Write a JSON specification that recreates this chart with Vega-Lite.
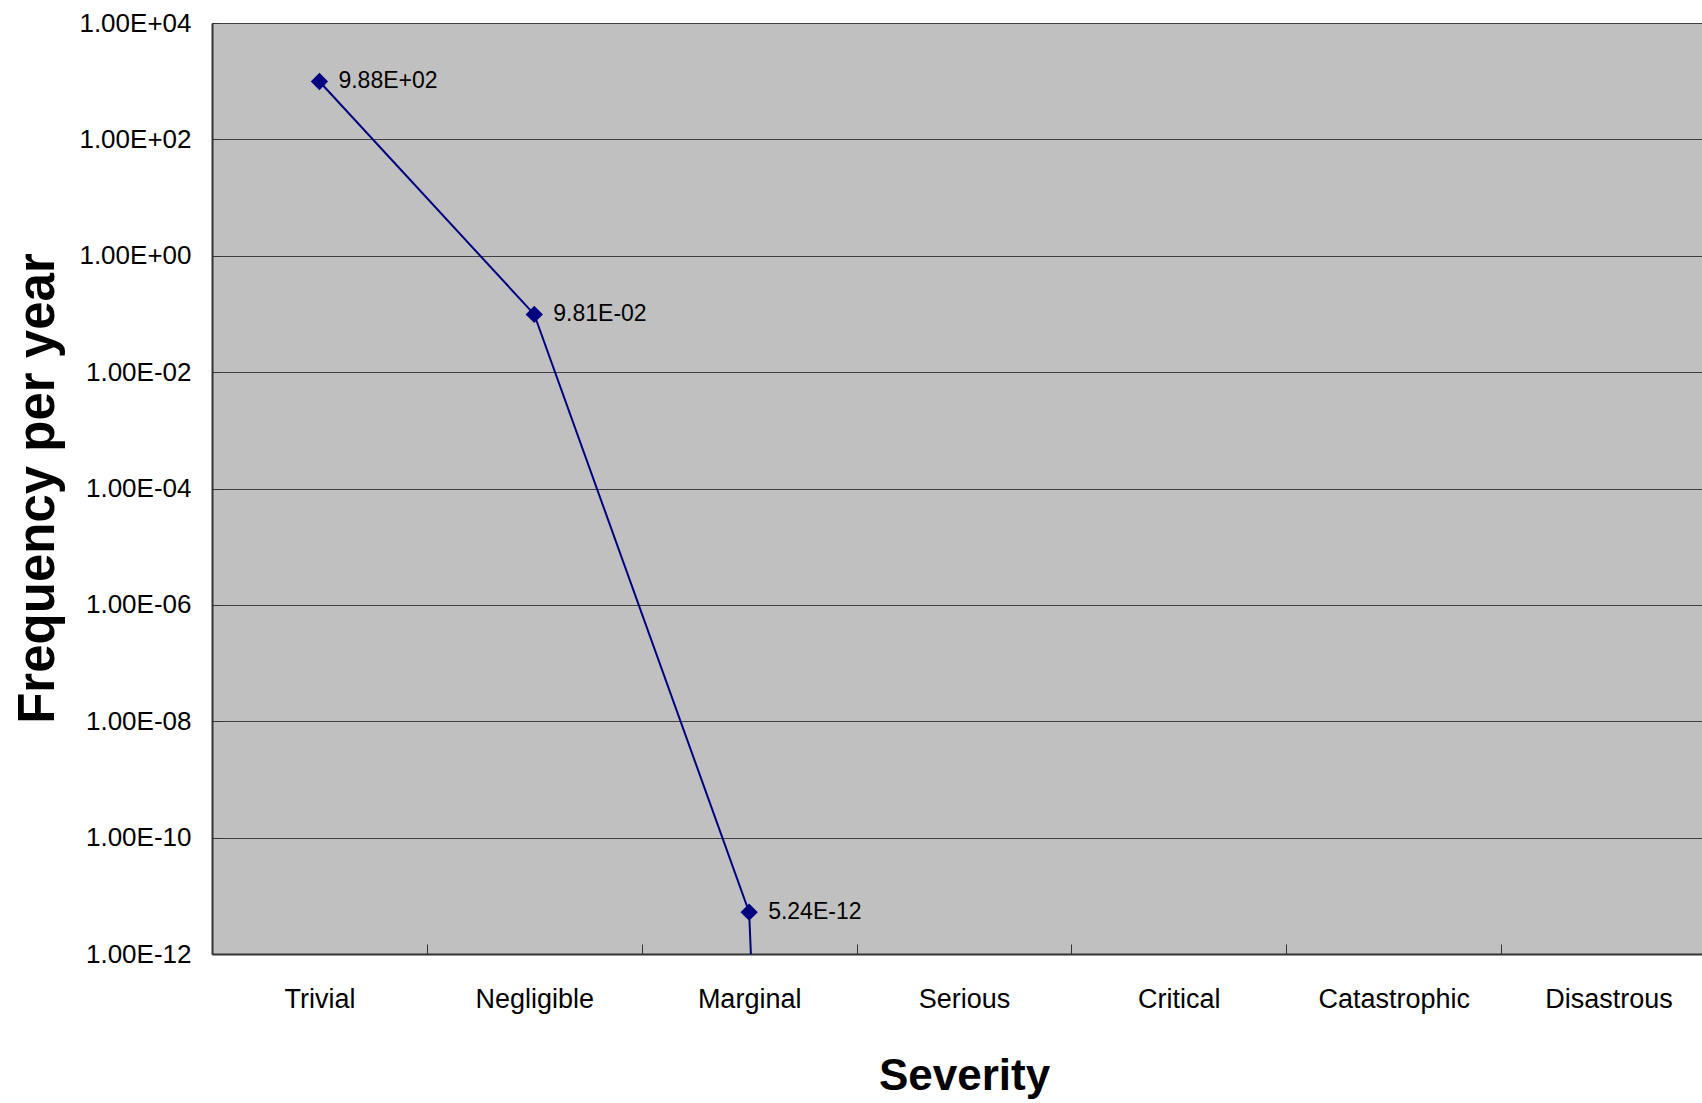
{
  "$schema": "https://vega.github.io/schema/vega-lite/v6.json",
  "width": 1490,
  "height": 931,
  "autosize": {"type": "none"},
  "padding": {"left": 212, "top": 23, "right": 0, "bottom": 149},
  "background": "white",
  "config": {"view": {"fill": "#C0C0C0", "stroke": null}, "font": "Liberation Sans"},
  "data": {"values": [
    {"severity": "Trivial", "frequency": 988, "label": "9.88E+02"},
    {"severity": "Negligible", "frequency": 0.0981, "label": "9.81E-02"},
    {"severity": "Marginal", "frequency": 5.24e-12, "label": "5.24E-12"},
    {"severity": "Serious", "frequency": 1e-100, "label": ""}
  ]},
  "encoding": {
    "x": {
      "field": "severity",
      "type": "nominal",
      "bandPosition": 0.5,
      "sort": ["Trivial", "Negligible", "Marginal", "Serious", "Critical", "Catastrophic", "Disastrous"],
      "scale": {
        "type": "band",
        "domain": ["Trivial", "Negligible", "Marginal", "Serious", "Critical", "Catastrophic", "Disastrous"],
        "range": [0, 1504],
        "paddingInner": 0,
        "paddingOuter": 0
      },
      "axis": {
        "grid": false,
        "domainColor": "#333333",
        "domainWidth": 2,
        "tickColor": "#333333",
        "tickWidth": 1,
        "tickSize": -10,
        "tickBand": "extent",
        "labelFontSize": 27,
        "labelColor": "#000000",
        "labelPadding": 63,
        "labelBaseline": "alphabetic",
        "labelAngle": 0,
        "title": "Severity",
        "titleFontSize": 44,
        "titleFontWeight": "bold",
        "titleColor": "#000000",
        "titleX": 752,
        "titleY": 135,
        "titleAlign": "center",
        "titleBaseline": "alphabetic"
      }
    },
    "y": {
      "field": "frequency",
      "type": "quantitative",
      "scale": {"type": "log", "domain": [1e-12, 10000], "nice": false},
      "axis": {
        "values": [1e-12, 1e-10, 1e-8, 1e-6, 1e-4, 1e-2, 1, 100, 10000],
        "labelExpr": "'1.00E' + (round(log(datum.value)/LN10) < 0 ? '-' : '+') + (abs(round(log(datum.value)/LN10)) < 10 ? '0' : '') + abs(round(log(datum.value)/LN10))",
        "grid": true,
        "gridColor": "#404040",
        "gridWidth": 1,
        "domainColor": "#333333",
        "domainWidth": 2,
        "tickColor": "#333333",
        "tickSize": -8,
        "labelFontSize": 26,
        "labelColor": "#000000",
        "labelPadding": 29,
        "labelOverlap": false,
        "labelBound": false,
        "labelFlush": false,
        "title": "Frequency per year",
        "titleFontSize": 51,
        "titleFontWeight": "bold",
        "titleColor": "#000000",
        "titleAngle": 270,
        "titleX": -159,
        "titleY": 465,
        "titleAlign": "center",
        "titleBaseline": "alphabetic"
      }
    }
  },
  "layer": [
    {"mark": {"type": "line", "color": "#000080", "strokeWidth": 2, "clip": true}},
    {"mark": {"type": "point", "shape": "diamond", "filled": true, "size": 300, "color": "#000080", "opacity": 1, "clip": true}},
    {"mark": {"type": "text", "align": "left", "baseline": "middle", "dx": 19, "fontSize": 23, "color": "#000000", "clip": true},
     "encoding": {"text": {"field": "label", "type": "nominal"}}}
  ]
}
